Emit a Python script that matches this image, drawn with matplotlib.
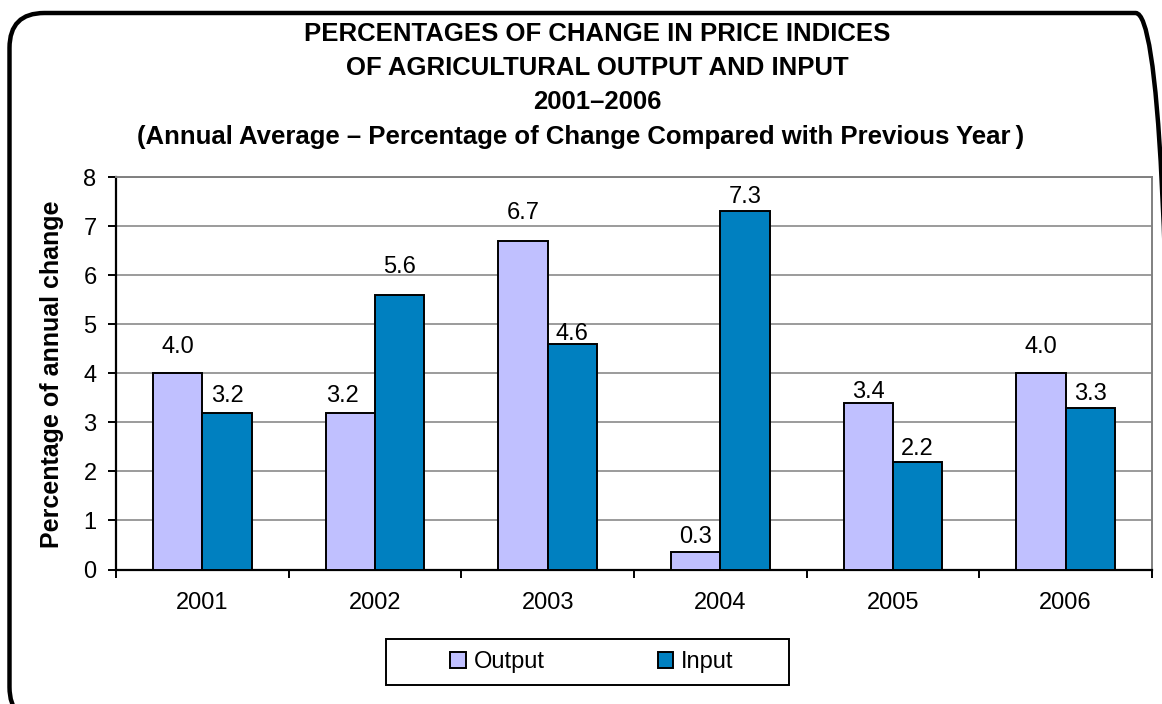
import numpy as np
import matplotlib.pyplot as plt
from matplotlib.patches import FancyBboxPatch, Rectangle

plt.rcParams['font.family'] = ['Liberation Sans', 'DejaVu Sans']

years = ["2001", "2002", "2003", "2004", "2005", "2006"]
output_vals = [4.0, 3.2, 6.7, 0.35, 3.4, 4.0]
input_vals = [3.2, 5.6, 4.6, 7.3, 2.2, 3.3]
output_labels = ["4.0", "3.2", "6.7", "0.3", "3.4", "4.0"]
input_labels = ["3.2", "5.6", "4.6", "7.3", "2.2", "3.3"]

# label gap above each bar top (pixels), labels were hand-placed in the original
output_gap = [20, 10, 22, 9, 5, 20]
input_gap = [11, 22, 4, 8, 7, 8]
output_dx = [0, -8, 0, 0, 0, 0]

W, H = 1162, 704
fig = plt.figure(figsize=(W / 100, H / 100), dpi=100)
ax = fig.add_axes([116 / W, 1 - 569.5 / H, 1036 / W, 392.5 / H])

# rounded frame around the whole chart (bottom and right run off the canvas)
frame = FancyBboxPatch((9.5 / W, 1 - 722 / H), 1161 / W, 709 / H, boxstyle="round,pad=0,rounding_size=0.03",
                       transform=fig.transFigure, facecolor="none", edgecolor="black",
                       linewidth=3.2, mutation_aspect=W / H, clip_on=False)
fig.patches.append(frame)

x = np.arange(len(years))
w = 0.2855
b1 = ax.bar(x - w / 2, output_vals, w, color="#C0C0FF", edgecolor="black", linewidth=1.4, label="Output", zorder=3)
b2 = ax.bar(x + w / 2, input_vals, w, color="#0080C0", edgecolor="black", linewidth=1.4, label="Input", zorder=3)
for bars, vals, labs, gaps, dxs in ((b1, output_vals, output_labels, output_gap, output_dx),
                                    (b2, input_vals, input_labels, input_gap, [0] * 6)):
    for r, v, lab, g, dx in zip(bars, vals, labs, gaps, dxs):
        ax.annotate(lab, (r.get_x() + r.get_width() / 2, v), xytext=(dx * 0.72, g * 0.72),
                    textcoords="offset points", ha="center", va="baseline", fontsize=17)

ax.set_xlim(-0.5, len(years) - 0.5)
ax.set_ylim(0, 8)
ax.set_yticks(range(9))
ax.tick_params(axis="y", labelsize=17, length=6, width=1.4, direction="out", pad=8)
ax.yaxis.grid(True, color="#808080", linewidth=1.1, zorder=0)

ax.set_xticks(np.arange(-0.5, len(years), 1))
ax.set_xticklabels([])
ax.tick_params(axis="x", which="major", length=6, width=1.4, direction="out")
ax.set_xticks(x, minor=True)
ax.set_xticklabels(years, minor=True)
ax.tick_params(axis="x", which="minor", length=0, labelsize=17, pad=16)

for s in ("left", "bottom"):
    ax.spines[s].set_linewidth(1.6)
    ax.spines[s].set_color("black")
for s in ("top", "right"):
    ax.spines[s].set_color("#808080")
    ax.spines[s].set_linewidth(1.4)

fig.text(52 / W, 1 - 374 / H, "Percentage of annual change", rotation=90, ha="center", va="center",
         fontsize=18, fontweight="bold")

tkw = dict(ha="center", va="center", fontsize=18.5, fontweight="bold")
fig.text(597 / W, 1 - 34 / H, "PERCENTAGES OF CHANGE IN PRICE INDICES", **tkw)
fig.text(597 / W, 1 - 68 / H, "OF AGRICULTURAL OUTPUT AND INPUT", **tkw)
fig.text(597 / W, 1 - 102 / H, "2001\u20132006", **tkw)
fig.text(581 / W, 1 - 137 / H, "(Annual Average \u2013 Percentage of Change Compared with Previous Year\u2009)", **tkw)

# legend box drawn separately so its padding can match the original
fig.patches.append(Rectangle((386 / W, 1 - 685 / H), 403 / W, 46 / H, transform=fig.transFigure,
                             facecolor="white", edgecolor="black", linewidth=1.4))
leg = fig.legend(loc="center", bbox_to_anchor=(592 / W, 1 - 662 / H), ncol=2, fontsize=17, frameon=False,
                 handlelength=0.65, handleheight=0.65, columnspacing=4.8, borderpad=0.2, handletextpad=0.34)

fig.savefig("out.png", dpi=100)
